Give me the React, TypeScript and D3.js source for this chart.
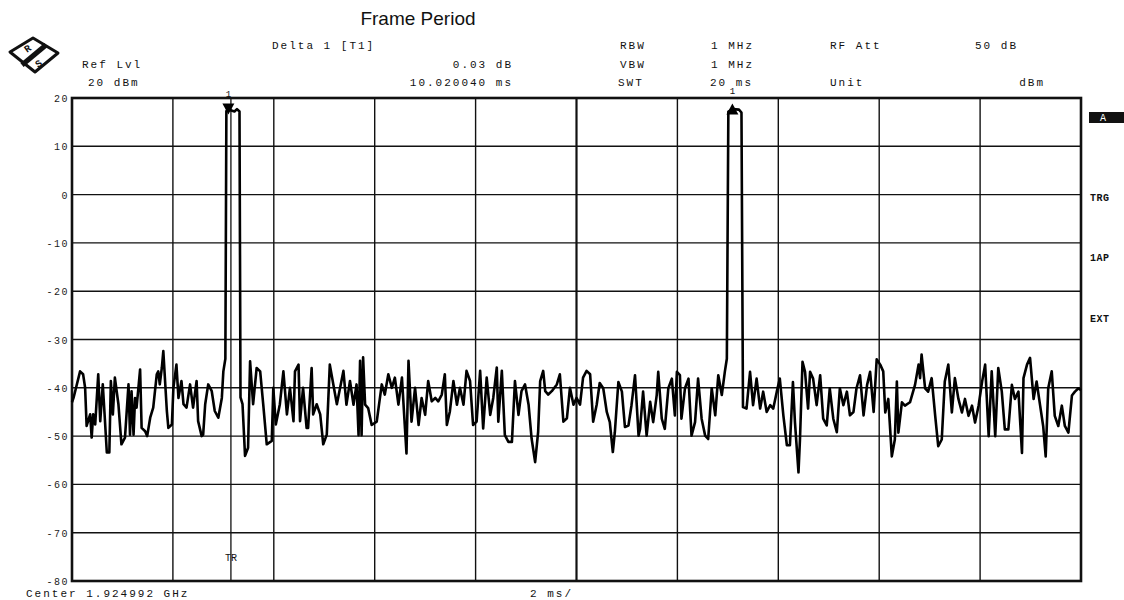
import React from "react";
import * as d3 from "d3";

const W = 1124;
const H = 600;

const yTicks = [20, 10, 0, -10, -20, -30, -40, -50, -60, -70, -80];
const xTicks = [0, 2, 4, 6, 8, 10, 12, 14, 16, 18, 20];

// [time ms, level dBm]
const trace: [number, number][] = [
  [0, -43], [0.03, -42.1], [0.16, -36.6], [0.22, -37.2], [0.26, -40], [0.29, -47.9], [0.36, -45.5], [0.39, -50.3],
  [0.42, -45.5], [0.46, -47.6], [0.52, -37.2], [0.56, -46.9], [0.61, -39.3], [0.65, -46.2], [0.69, -53.4], [0.74, -53.4],
  [0.77, -38.6], [0.81, -45.5], [0.85, -37.9], [0.92, -43.4], [0.98, -51.7], [1.05, -50.3], [1.12, -39.3], [1.15, -49.7],
  [1.18, -40.7], [1.22, -49.7], [1.25, -42.1], [1.28, -44.1], [1.35, -36.2], [1.38, -48.3], [1.45, -49.0], [1.49, -50.0],
  [1.55, -46.2], [1.61, -44.1], [1.68, -37.2], [1.71, -36.6], [1.74, -39.3], [1.78, -35.9], [1.81, -32.4], [1.88, -44.8],
  [1.91, -48.3], [1.98, -47.6], [2.01, -40.0], [2.07, -35.2], [2.11, -42.1], [2.17, -38.6], [2.21, -43.4], [2.27, -44.1],
  [2.34, -39.3], [2.40, -44.1], [2.47, -38.6], [2.50, -46.9], [2.57, -50.0], [2.60, -49.7], [2.64, -43.4], [2.70, -39.3],
  [2.77, -40.7], [2.83, -44.8], [2.90, -46.2], [2.97, -42.1], [3.00, -36.6], [3.04, -34],
  [3.06, 17.3], [3.10, 17.6], [3.22, 17.2], [3.27, 17.7], [3.32, 17.2], [3.34, -42],
  [3.38, -43.4], [3.43, -54.1], [3.49, -52.4], [3.53, -34.5], [3.59, -43.4], [3.66, -35.9], [3.73, -36.6], [3.79, -43.4],
  [3.86, -51.7], [3.96, -51.0], [3.99, -40.0], [4.04, -47.6], [4.12, -43.4], [4.19, -36.6], [4.26, -45.5], [4.32, -40.0],
  [4.39, -46.9], [4.42, -36.6], [4.49, -35.2], [4.52, -46.9], [4.58, -40.0], [4.65, -48.3], [4.68, -48.3], [4.75, -35.9],
  [4.78, -45.5], [4.85, -43.4], [4.92, -45.5], [4.98, -51.7], [5.05, -49.7], [5.11, -35.2], [5.18, -39.3], [5.25, -43.4],
  [5.38, -36.5], [5.44, -43.5], [5.51, -38.6], [5.58, -43.5], [5.64, -39.3], [5.68, -49.8], [5.71, -34.4], [5.74, -49.8],
  [5.77, -33.7], [5.81, -43.5], [5.87, -44.2], [5.94, -47.7], [6.04, -47.0], [6.14, -39.3], [6.20, -41.4], [6.27, -37.2],
  [6.34, -40.0], [6.40, -37.9], [6.47, -43.5], [6.54, -37.9], [6.60, -48.4], [6.63, -53.6], [6.67, -34.4], [6.73, -47.0],
  [6.80, -40.0], [6.87, -47.7], [6.93, -42.1], [7.00, -45.6], [7.06, -38.6], [7.13, -42.8], [7.20, -42.1], [7.26, -42.8],
  [7.33, -41.4], [7.39, -37.2], [7.43, -47.7], [7.49, -44.9], [7.56, -38.6], [7.63, -43.5], [7.69, -40.0], [7.76, -43.5],
  [7.82, -36.5], [7.89, -38.6], [7.95, -47.7], [8.02, -47.0], [8.09, -36.5], [8.15, -48.4], [8.22, -37.9], [8.29, -45.6],
  [8.35, -42.1], [8.42, -35.8], [8.45, -47.0], [8.52, -36.5], [8.58, -49.8], [8.65, -51.2], [8.72, -51.2], [8.78, -38.6],
  [8.85, -45.6], [8.91, -40.7], [8.98, -39.3], [9.05, -43.5], [9.11, -50.5], [9.18, -55.4], [9.24, -49.1], [9.28, -38.6],
  [9.34, -36.5], [9.38, -40.7], [9.44, -41.4], [9.51, -40.7], [9.61, -39.3], [9.67, -37.2], [9.74, -47.0], [9.81, -46.3],
  [9.87, -40.0], [9.94, -43.5], [10.00, -42.1], [10.07, -43.5], [10.13, -37.9], [10.20, -36.5], [10.27, -37.2], [10.33, -47.0],
  [10.40, -43.5], [10.46, -39.0], [10.53, -40.1], [10.60, -45.0], [10.66, -47.1], [10.72, -53.3], [10.76, -49.2], [10.83, -38.8],
  [10.90, -40.8], [10.96, -48.1], [11.03, -47.8], [11.09, -43.6], [11.16, -37.4], [11.23, -49.9], [11.26, -48.5], [11.32, -40.8],
  [11.39, -49.9], [11.46, -42.9], [11.52, -47.1], [11.59, -41.5], [11.62, -36.7], [11.69, -46.4], [11.75, -48.5], [11.82, -40.1],
  [11.89, -38.1], [11.95, -45.7], [11.99, -36.7], [12.05, -37.4], [12.08, -46.4], [12.15, -40.1], [12.22, -38.1], [12.28, -49.9],
  [12.35, -47.1], [12.41, -38.1], [12.48, -46.4], [12.55, -49.9], [12.61, -50.6], [12.68, -40.1], [12.75, -45.7], [12.81, -37.4],
  [12.88, -41.5], [12.94, -36.7], [12.98, -34],
  [13.01, 17.2], [13.10, 17.7], [13.22, 17.6], [13.27, 17.0], [13.30, -44],
  [13.37, -44.3], [13.44, -36.7], [13.50, -43.6], [13.57, -38.1], [13.64, -44.3], [13.70, -40.8], [13.77, -45.0], [13.84, -43.6],
  [13.90, -44.3], [13.97, -40.8], [14.03, -38.1], [14.10, -45.7], [14.17, -51.9], [14.23, -51.9], [14.29, -38.8], [14.33, -47.1],
  [14.40, -57.5], [14.43, -50.6], [14.48, -34.6], [14.53, -36.7], [14.59, -44.3], [14.63, -36.7], [14.69, -38.1], [14.76, -43.6],
  [14.83, -37.4], [14.89, -46.4], [14.96, -47.8], [15.02, -40.1], [15.09, -46.4], [15.16, -49.2], [15.22, -40.1], [15.29, -43.6],
  [15.36, -40.8], [15.42, -45.7], [15.49, -45.0], [15.55, -40.1], [15.62, -37.4], [15.69, -45.7], [15.76, -39.4], [15.82, -36.7],
  [15.89, -45.0], [15.95, -34.1], [16.02, -35.2], [16.08, -36.6], [16.12, -45.1], [16.18, -42.3], [16.25, -54.2], [16.31, -50.7],
  [16.35, -38.7], [16.38, -49.3], [16.45, -43.0], [16.51, -43.7], [16.61, -43.0], [16.71, -39.4], [16.78, -35.2], [16.81, -38.0],
  [16.84, -33.1], [16.91, -40.1], [16.97, -40.8], [17.04, -38.0], [17.11, -45.8], [17.17, -52.1], [17.24, -50.7], [17.30, -38.7],
  [17.37, -35.2], [17.44, -45.1], [17.50, -38.0], [17.57, -42.3], [17.64, -45.1], [17.70, -42.3], [17.77, -45.8], [17.84, -43.7],
  [17.90, -47.2], [17.97, -43.7], [18.04, -38.7], [18.10, -35.2], [18.17, -50.0], [18.23, -36.6], [18.30, -50.0], [18.36, -35.9],
  [18.43, -40.8], [18.49, -48.6], [18.56, -48.6], [18.63, -39.4], [18.69, -42.3], [18.76, -40.8], [18.83, -53.5], [18.86, -38.0],
  [18.93, -35.2], [18.99, -33.8], [19.06, -42.3], [19.12, -38.7], [19.19, -43.7], [19.25, -47.9], [19.30, -54.2], [19.35, -40.1],
  [19.42, -36.6], [19.48, -45.8], [19.55, -47.9], [19.62, -43.7], [19.68, -47.9], [19.75, -49.3], [19.82, -41.6], [19.88, -40.8],
  [19.95, -40.1], [20, -40.5],
];

const marker1: [number, number] = [3.1, 17.6];
const delta1: [number, number] = [13.09, 17.6];
const triggerTime = 3.15;

const headerLeft = [
  { text: "Delta 1 [T1]", col: 272, row: 0, anchor: "start" },
  { text: "Ref Lvl", col: 82, row: 1, anchor: "start" },
  { text: "0.03 dB", col: 513, row: 1, anchor: "end" },
  { text: "20 dBm", col: 88, row: 2, anchor: "start" },
  { text: "10.020040 ms", col: 513, row: 2, anchor: "end" },
  { text: "RBW", col: 620, row: 0, anchor: "start" },
  { text: "1 MHz", col: 711, row: 0, anchor: "start" },
  { text: "RF Att", col: 830, row: 0, anchor: "start" },
  { text: "50 dB", col: 975, row: 0, anchor: "start" },
  { text: "VBW", col: 620, row: 1, anchor: "start" },
  { text: "1 MHz", col: 711, row: 1, anchor: "start" },
  { text: "SWT", col: 618, row: 2, anchor: "start" },
  { text: "20 ms", col: 710, row: 2, anchor: "start" },
  { text: "Unit", col: 830, row: 2, anchor: "start" },
  { text: "dBm", col: 1045, row: 2, anchor: "end" },
];

const sideLabels = [
  { text: "TRG", y: 201 },
  { text: "1AP", y: 261 },
  { text: "EXT", y: 322 },
];

const MONO = "'Liberation Mono', 'DejaVu Sans Mono', monospace";

export default function App() {
  const left = 72, right = 1081, top = 98, bottom = 581;
  const x = d3.scaleLinear().domain([0, 20]).range([left, right]);
  const y = d3.scaleLinear().domain([-80, 20]).range([bottom, top]);
  const line = d3.line<[number, number]>().x((d) => x(d[0])).y((d) => y(d[1]));
  const rowY = [49, 68, 86];

  const mx = x(marker1[0]), my = y(marker1[1]);
  const dx = x(delta1[0]), dy = y(delta1[1]);

  return (
    <svg width={W} height={H} style={{ position: "absolute", left: 0, top: 0, background: "#fff" }}>
      <rect x={0} y={0} width={W} height={H} fill="#fff" />
      {/* title */}
      <text x={418} y={25} textAnchor="middle" fontFamily="'Liberation Sans', Arial, sans-serif" fontSize={19} fill="#111">
        Frame Period
      </text>
      {/* logo */}
      <g>
        <polygon points="10,52 33,38 58,53 35,72" fill="#fff" stroke="#111" strokeWidth={3} strokeLinejoin="round" />
        <line x1={22} y1={65} x2={46} y2={45} stroke="#111" strokeWidth={5} />
        <text x={27} y={53} fontFamily={MONO} fontSize={10} fontWeight="bold" fill="#111" transform="rotate(-35,27,53)">R</text>
        <text x={38} y={68} fontFamily={MONO} fontSize={10} fontWeight="bold" fill="#111" transform="rotate(-35,38,68)">S</text>
      </g>
      {/* header */}
      {headerLeft.map((h, i) => (
        <text key={i} x={h.col} y={rowY[h.row]} textAnchor={h.anchor as any} fontFamily={MONO} fontSize={11}
          letterSpacing={2} fill="#111">
          {h.text}
        </text>
      ))}
      {/* grid */}
      {xTicks.map((t) => (
        <line key={"gx" + t} x1={x(t)} x2={x(t)} y1={top} y2={bottom} stroke="#111"
          strokeWidth={t === 10 ? 2.2 : 1.4} />
      ))}
      {yTicks.map((v) => (
        <line key={"gy" + v} x1={left} x2={right} y1={y(v)} y2={y(v)} stroke="#111" strokeWidth={1.4} />
      ))}
      <rect x={left} y={top} width={right - left} height={bottom - top} fill="none" stroke="#111" strokeWidth={2.6} />
      {/* y labels */}
      {yTicks.map((v) => (
        <text key={"yl" + v} x={69} y={y(v) + 4} textAnchor="end" fontFamily={MONO} fontSize={10}
          letterSpacing={1.5} fill="#222">
          {String(v)}
        </text>
      ))}
      {/* trigger line */}
      <line x1={x(triggerTime)} x2={x(triggerTime)} y1={top} y2={bottom} stroke="#111" strokeWidth={1.3} />
      <text x={x(triggerTime)} y={561} textAnchor="middle" fontFamily={MONO} fontSize={10} fill="#111">TR</text>
      {/* trace */}
      <path d={line(trace) || ""} fill="none" stroke="#000" strokeWidth={2.6} strokeLinejoin="round" />
      {/* markers */}
      <polygon points={`${mx - 6},${my - 6} ${mx + 6},${my - 6} ${mx},${my + 5}`} fill="#000" />
      <text x={mx} y={top - 1} textAnchor="middle" fontFamily={MONO} fontSize={9} fill="#111">1</text>
      <polygon points={`${dx - 6},${dy + 5} ${dx + 6},${dy + 5} ${dx},${dy - 6}`} fill="#000" />
      <text x={dx} y={top - 4} textAnchor="middle" fontFamily={MONO} fontSize={9} fill="#111">1</text>
      {/* right side */}
      <rect x={1089} y={112} width={35} height={11} fill="#111" />
      <text x={1100} y={121} fontFamily={MONO} fontSize={10} fill="#fff">A</text>
      {sideLabels.map((s) => (
        <text key={s.text} x={1090} y={s.y} fontFamily={MONO} fontSize={10} fontWeight="bold" letterSpacing={0.5} fill="#111">
          {s.text}
        </text>
      ))}
      {/* bottom */}
      <text x={26} y={597} fontFamily={MONO} fontSize={11} letterSpacing={2} fill="#111">Center 1.924992 GHz</text>
      <text x={530} y={597} fontFamily={MONO} fontSize={11} letterSpacing={2} fill="#111">2 ms/</text>
    </svg>
  );
}
